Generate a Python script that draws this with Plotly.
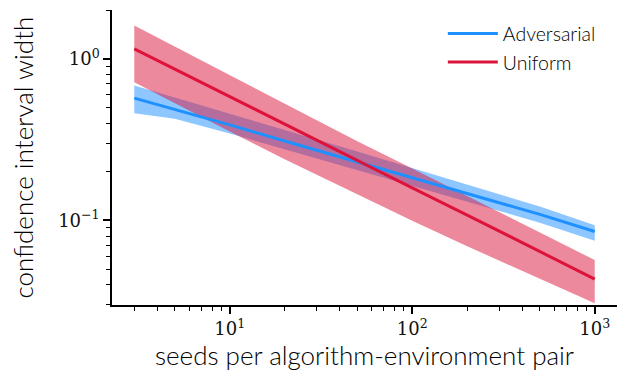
import plotly.graph_objects as go

seeds = [3, 5, 10, 20, 50, 100, 200, 500, 1000]

adv_mean = [0.571, 0.486, 0.390, 0.310, 0.230, 0.184, 0.146, 0.109, 0.0855]
adv_upper = [0.684, 0.578, 0.460, 0.363, 0.267, 0.211, 0.167, 0.122, 0.0935]
adv_lower = [0.461, 0.426, 0.345, 0.275, 0.205, 0.164, 0.130, 0.0969, 0.0748]

uni_mean = [1.153, 0.863, 0.584, 0.395, 0.235, 0.159, 0.108, 0.0643, 0.0434]
uni_upper = [1.605, 1.19, 0.792, 0.527, 0.309, 0.210, 0.142, 0.0851, 0.0569]
uni_lower = [0.717, 0.531, 0.355, 0.239, 0.145, 0.0997, 0.0693, 0.0435, 0.0307]

x_tickvals = [10, 100, 1000]
x_ticktext = ["10<sup>1</sup>", "10<sup>2</sup>", "10<sup>3</sup>"]
y_tickvals = [0.1, 1]
y_ticktext = ["10<sup>−1</sup>", "10<sup>0</sup>"]

BLUE = "#1E90FF"
BLUE_FILL = "rgba(30,144,255,0.5)"
RED = "#DC143C"
RED_FILL = "rgba(220,20,60,0.5)"

fig = go.Figure()

def band(x, lo, hi, fill):
    fig.add_trace(go.Scatter(x=x, y=hi, mode="lines", line=dict(width=0),
                             showlegend=False, hoverinfo="skip"))
    fig.add_trace(go.Scatter(x=x, y=lo, mode="lines", line=dict(width=0),
                             fill="tonexty", fillcolor=fill,
                             showlegend=False, hoverinfo="skip"))

band(seeds, adv_lower, adv_upper, BLUE_FILL)
band(seeds, uni_lower, uni_upper, RED_FILL)

fig.add_trace(go.Scatter(x=seeds, y=adv_mean, mode="lines",
                         line=dict(color=BLUE, width=3), name="Adversarial"))
fig.add_trace(go.Scatter(x=seeds, y=uni_mean, mode="lines",
                         line=dict(color=RED, width=3), name="Uniform"))

def minor_vals(lo_exp, hi_exp):
    vals = []
    for e in range(lo_exp, hi_exp + 1):
        for d in range(2, 10):
            vals.append(d * 10 ** e)
    return vals

axis_common = dict(
    showgrid=False, zeroline=False, showline=True, linecolor="black",
    linewidth=1.5, ticks="outside", ticklen=7, tickwidth=1.5,
    tickcolor="black", mirror=False,
    tickfont=dict(family="DejaVu Serif", size=18, color="#111"),
)

TITLE_FONT = dict(family="Lato", size=26, color="#000", weight=300)

fig.update_xaxes(
    type="log", range=[0.355, 3.122], tickmode="array",
    tickvals=x_tickvals, ticktext=x_ticktext,
    minor=dict(ticks="outside", ticklen=4, tickwidth=1.2, tickcolor="black",
               tickmode="array", tickvals=minor_vals(0, 2), showgrid=False),
    title=dict(text="seeds per algorithm-environment pair",
               font=TITLE_FONT, standoff=6),
    **axis_common,
)
fig.update_yaxes(
    type="log", range=[-1.523, 0.302], tickmode="array",
    tickvals=y_tickvals, ticktext=y_ticktext,
    minor=dict(ticks="outside", ticklen=4, tickwidth=1.2, tickcolor="black",
               tickmode="array", tickvals=minor_vals(-2, 0), showgrid=False),
    **axis_common,
)

fig.add_annotation(
    text="confidence interval width", textangle=-90,
    xref="paper", yref="paper", x=-0.178, y=0.5,
    xanchor="center", yanchor="middle", showarrow=False,
    font=TITLE_FONT,
)

fig.update_layout(
    width=619, height=378,
    margin=dict(l=112, r=2, t=10, b=73),
    plot_bgcolor="white", paper_bgcolor="white",
    legend=dict(x=0.968, y=0.985, xanchor="right", yanchor="top",
                traceorder="normal", tracegroupgap=0,
                bgcolor="rgba(0,0,0,0)",
                font=dict(family="Lato", size=19.5, color="#000", weight=300),
                itemwidth=50),
)

fig.write_html("out.html")
